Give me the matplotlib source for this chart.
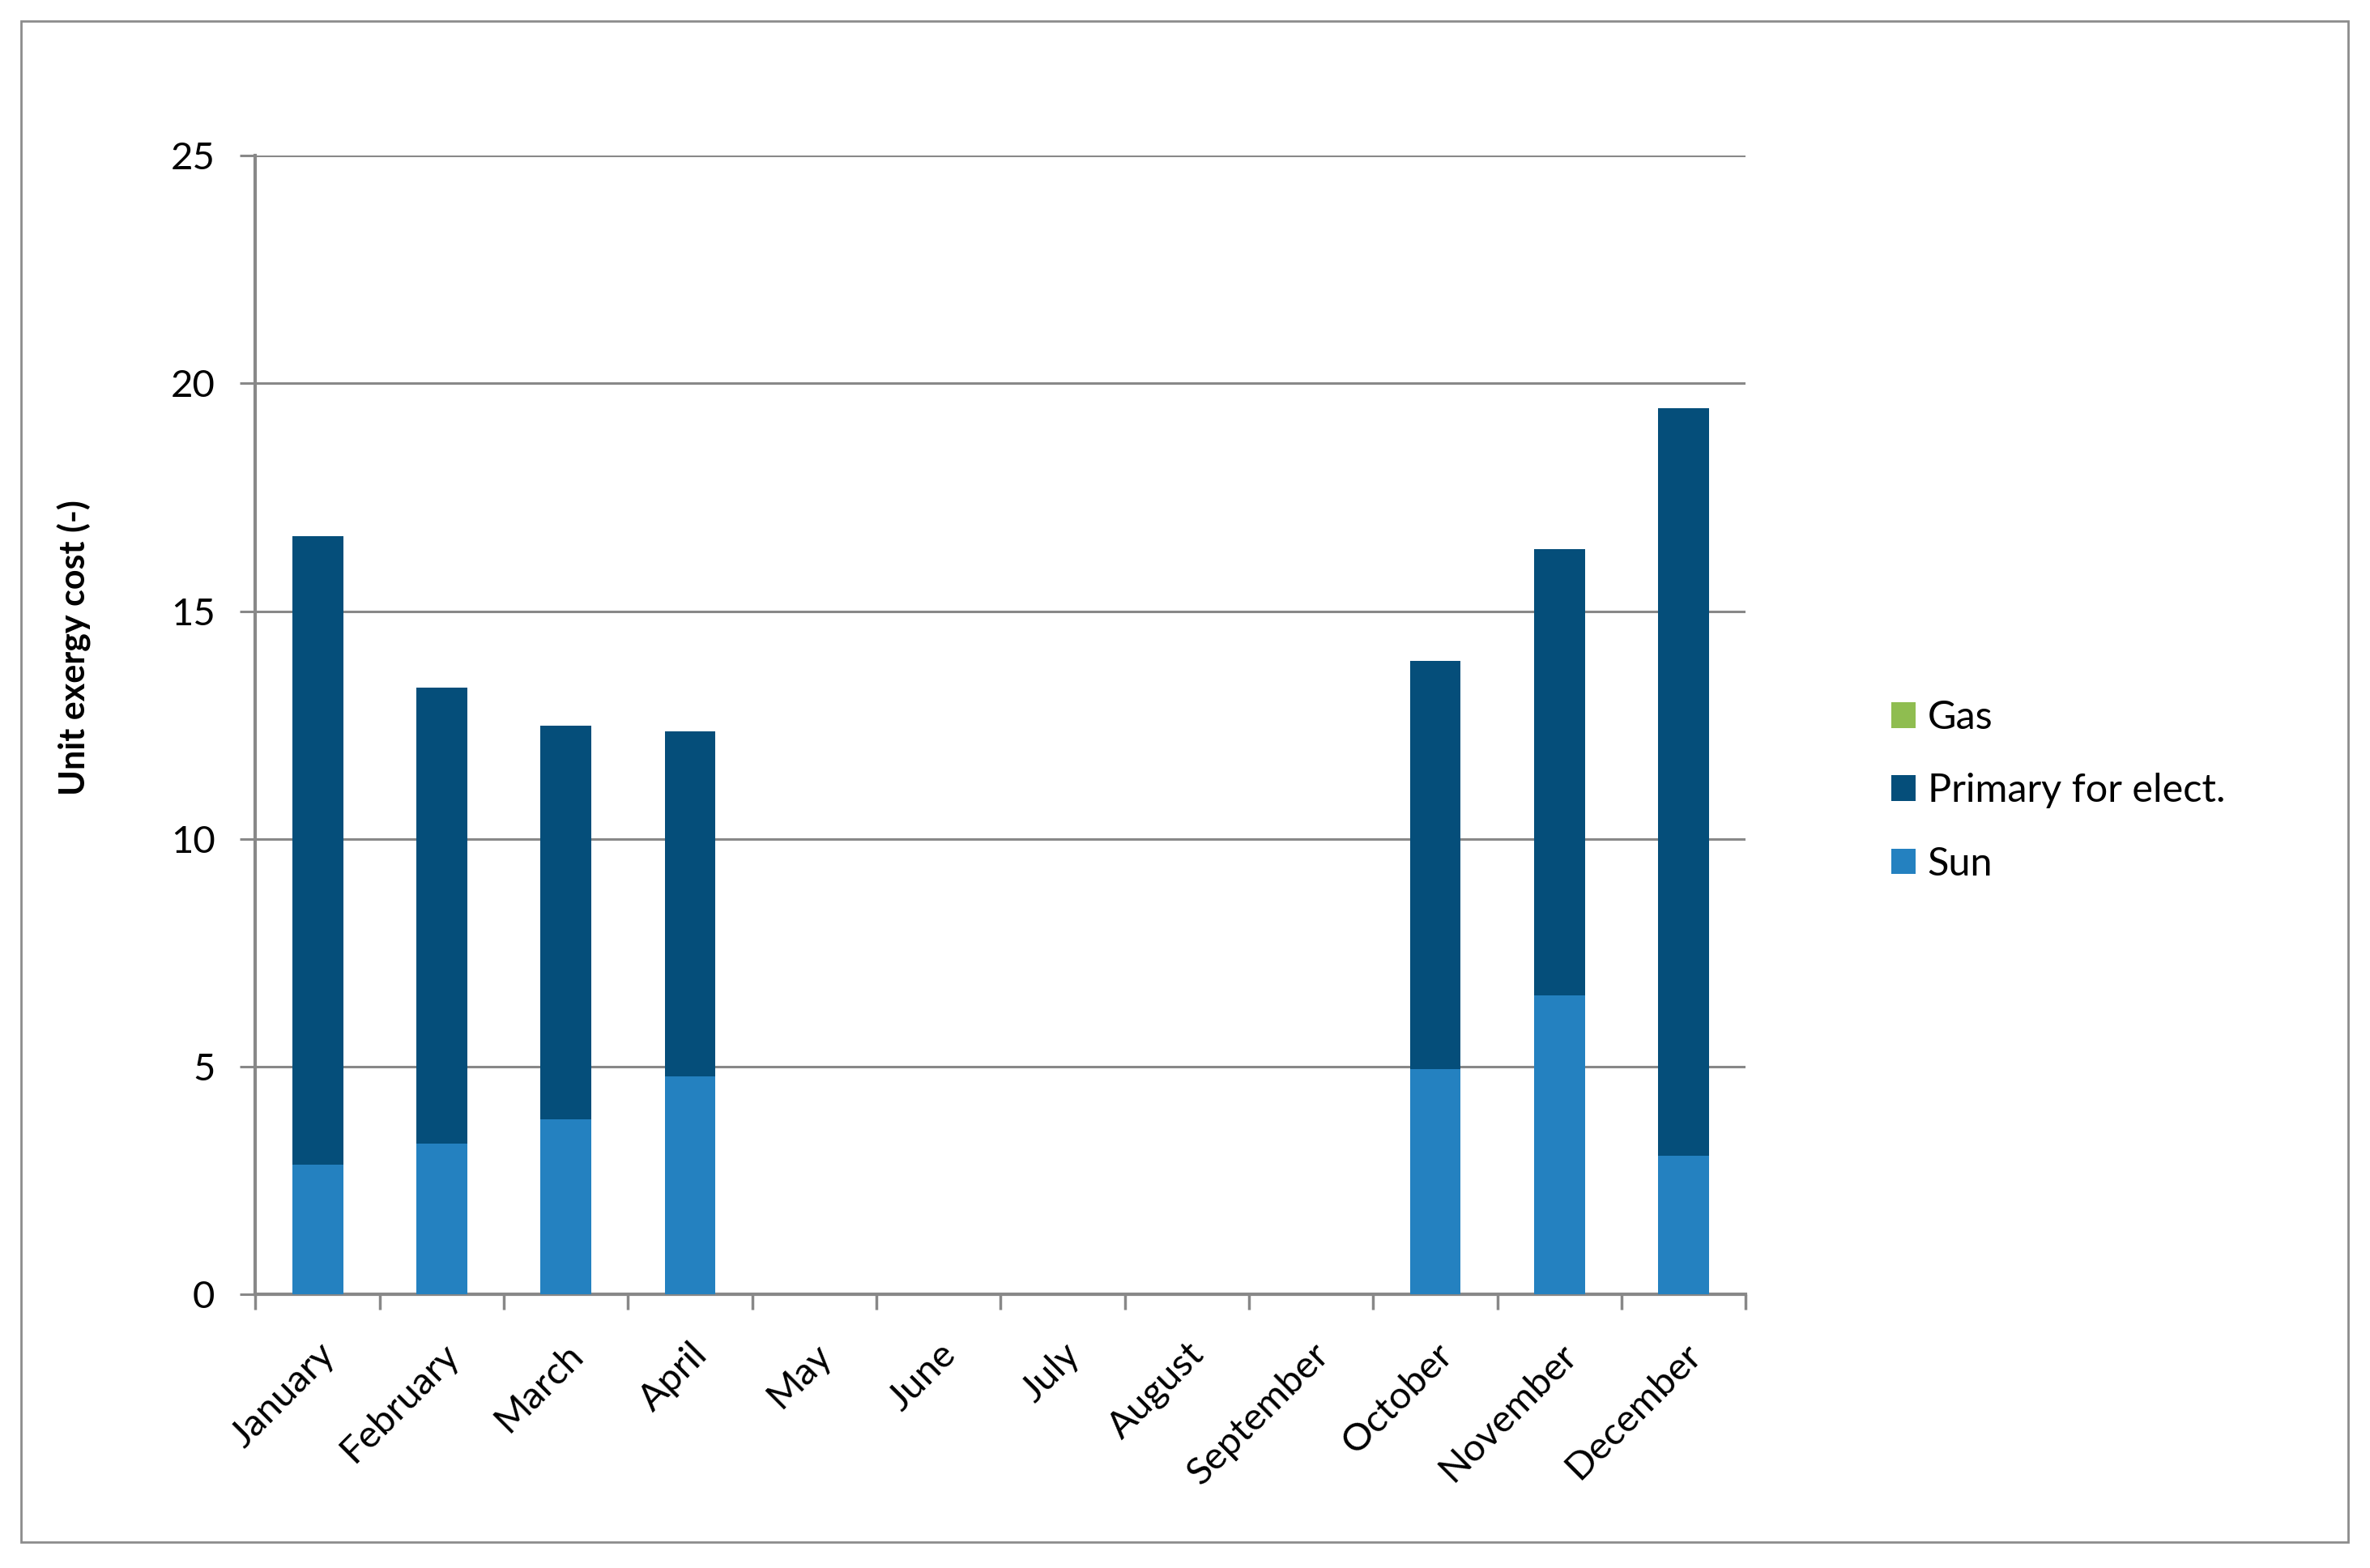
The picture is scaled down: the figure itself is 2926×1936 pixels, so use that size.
import numpy as np
import matplotlib
matplotlib.use("Agg")
import matplotlib.pyplot as plt
from matplotlib.patches import Rectangle

plt.rcParams['font.family'] = ['Lato', 'DejaVu Sans']

months = ['January', 'February', 'March', 'April', 'May', 'June', 'July',
          'August', 'September', 'October', 'November', 'December']
# stacked series
sun = [2.85, 3.31, 3.85, 4.79, 0, 0, 0, 0, 0, 4.94, 6.56, 3.05]
primary_total = [16.64, 13.33, 12.49, 12.37, 0, 0, 0, 0, 0, 13.90, 16.36, 19.46]
gas = [0, 0, 0, 0, 0, 0, 0, 0, 0, 0, 0, 0]

primary = [t - s for t, s in zip(primary_total, sun)]

c_sun = '#2481C0'
c_prim = '#054E7A'
c_gas = '#8FBD50'
grid_c = '#888888'

fig = plt.figure(figsize=(29.26, 19.36), dpi=100)
ax = fig.add_axes([0.1078, 0.1745, 0.6288, 0.7262])

x = np.arange(len(months))
w = 0.41
ax.bar(x, sun, w, color=c_sun, label='Sun', zorder=3)
ax.bar(x, primary, w, bottom=sun, color=c_prim, label='Primary for elect.', zorder=3)
bottom2 = [s + p for s, p in zip(sun, primary)]
ax.bar(x, gas, w, bottom=bottom2, color=c_gas, label='Gas', zorder=3)

ax.set_xlim(-0.5, 11.5)
ax.set_ylim(0, 25)
ax.set_yticks([0, 5, 10, 15, 20, 25])
ax.yaxis.grid(True, color=grid_c, linewidth=2.2, zorder=0)
ax.set_axisbelow(True)

for s in ['top', 'right']:
    ax.spines[s].set_visible(False)
for s in ['left', 'bottom']:
    ax.spines[s].set_color(grid_c)
    ax.spines[s].set_linewidth(3)

ax.tick_params(axis='y', length=14, width=2.2, color=grid_c, pad=22, labelsize=34)
ax.set_xticks(np.arange(-0.5, 12, 1), minor=True)
ax.tick_params(axis='x', which='minor', length=14, width=2.5, color=grid_c)
ax.set_xticks(x)
ax.set_xticklabels(months, rotation=45, ha='right', va='top', rotation_mode='anchor')
ax.tick_params(axis='x', which='major', length=0, pad=38, labelsize=34)

ax.set_ylabel('Unit exergy cost (-)', fontsize=31, fontweight='bold')
ax.yaxis.set_label_coords(-0.110, 0.568)

h, l = ax.get_legend_handles_labels()
leg = fig.legend(h[::-1], l[::-1], loc='center left', bbox_to_anchor=(0.783, 0.4957),
                 frameon=False, fontsize=35, handlelength=0.62, handleheight=0.62,
                 handletextpad=0.3, labelspacing=0.95)

fig.patches.append(Rectangle((0.0089, 0.0164), 0.982, 0.970, transform=fig.transFigure,
                             fill=False, edgecolor='#8c8c8c', linewidth=2))

fig.savefig('out.png', dpi=100, facecolor='white')
